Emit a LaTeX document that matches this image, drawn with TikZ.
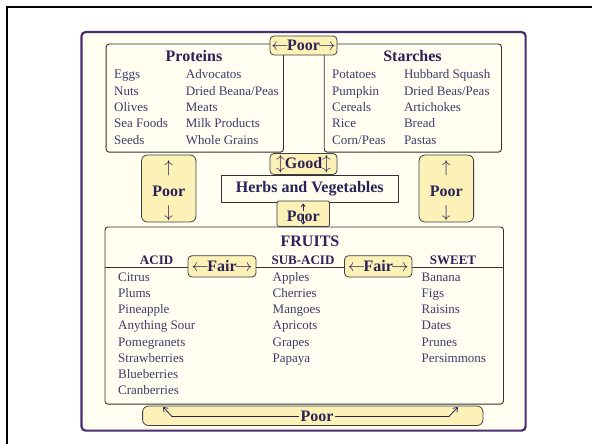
\documentclass[tikz,border=0pt]{standalone}
\usepackage{fontspec}
\setmainfont{Liberation Serif}
\usetikzlibrary{arrows.meta}
\definecolor{framepurple}{HTML}{4B2C6E}
\definecolor{cream}{HTML}{FFFEF0}
\definecolor{lblyellow}{HTML}{FCF2B8}
\definecolor{ttlcol}{HTML}{2B2258}
\definecolor{itmcol}{HTML}{3F3B6B}
\tikzset{
  frame/.style={draw=framepurple, line width=2.2pt, rounded corners=4pt, fill=cream, inner sep=0pt},
  grp/.style={draw=black!80, line width=0.9pt, rounded corners=3pt, inner sep=0pt},
  lbl/.style={draw=black!75, line width=0.8pt, rounded corners=4pt, fill=lblyellow, inner sep=0pt,
    font=\bfseries\fontsize{16}{16}\selectfont, text=ttlcol},
  ttl/.style={font=\bfseries\fontsize{16}{16}\selectfont, text=ttlcol, anchor=base, inner sep=0pt},
  hdr/.style={font=\bfseries\fontsize{13}{13}\selectfont, text=ttlcol, anchor=base, inner sep=0pt},
  itm/.style={font=\fontsize{13}{13}\selectfont, text=itmcol, anchor=base west, inner sep=0pt},
  arw/.style={font=\fontsize{16}{16}\selectfont, text=ttlcol, inner sep=0pt},
  conn/.style={draw=ttlcol, line width=0.8pt, -{Straight Barb[length=4pt,width=6pt]}},
}
\begin{document}
\begin{tikzpicture}[x=1pt,y=-1pt]
\useasboundingbox (0,0) rectangle (592,444);
\fill[white] (0,0) rectangle (592,444);
\draw[line width=1.3pt] (7,444) -- (7,7) -- (592,7);
% outer frame
\node[frame, anchor=north west, minimum width=444.1pt, minimum height=398.5pt] (frame) at (80.4,31) {};
% group boxes
\node[grp, anchor=north west, minimum width=177.3pt, minimum height=108.1pt] (prot) at (105.7,43.6) {};
\node[grp, anchor=north west, minimum width=177.2pt, minimum height=108.1pt] (starch) at (323.8,43.6) {};
\node[ttl] (prott) at (194,61.3) {Proteins};
\node[ttl] (starcht) at (412.5,61.3) {Starches};
\foreach \t [count=\i from 0] in {Eggs,Nuts,Olives,Sea Foods,Seeds}
  \node[itm] (pa\i) at (114,78.8+16.3*\i) {\t};
\foreach \t [count=\i from 0] in {Advocatos,Dried Beana/Peas,Meats,Milk Products,Whole Grains}
  \node[itm] (pb\i) at (185.7,78.8+16.3*\i) {\t};
\foreach \t [count=\i from 0] in {Potatoes,Pumpkin,Cereals,Rice,Corn/Peas}
  \node[itm] (sa\i) at (332,78.8+16.3*\i) {\t};
\foreach \t [count=\i from 0] in {Hubbard Squash,Dried Beas/Peas,Artichokes,Bread,Pastas}
  \node[itm] (sb\i) at (403.8,78.8+16.3*\i) {\t};
% top poor
\node[lbl, minimum width=67pt, minimum height=19pt] (ptop) at (303.5,45.5) {$\leftarrow$\kern-1.5pt Poor\kern-1.5pt$\rightarrow$};
% good
\node[lbl, minimum width=67pt, minimum height=21pt] (good) at (303.5,164) {$\updownarrow$Good$\updownarrow$};
% herbs
\node[grp, rounded corners=0pt, fill=cream, minimum width=176.5pt, minimum height=26.5pt,
  font=\bfseries\fontsize{16}{16}\selectfont, text=ttlcol] (herbs) at (309.75,188.75) {Herbs and Vegetables};
% side poor
\node[lbl, rounded corners=6pt, minimum width=54.5pt, minimum height=67pt] (pleft) at (168.75,188.5) {};
\node[arw] (pleftu) at (168.75,168.5) {$\uparrow$};
\node[ttl, anchor=center] (pleftt) at (168.75,191.5) {Poor};
\node[arw] (pleftd) at (168.75,213) {$\downarrow$};
\node[lbl, rounded corners=6pt, minimum width=54.6pt, minimum height=67pt] (pright) at (446.3,188.5) {};
\node[arw] (prightu) at (446.3,168.5) {$\uparrow$};
\node[ttl, anchor=center] (prightt) at (446.3,191.5) {Poor};
\node[arw] (prightd) at (446.3,213) {$\downarrow$};
% fruits
\node[grp, anchor=north west, minimum width=398.5pt, minimum height=177.2pt] (fruits) at (104.5,226.5) {};
\coordinate (fl) at (104.5,267.4);
\coordinate (fr) at (503,267.4);
\draw[black!80, line width=0.9pt] (fl) -- (fr);
\node[ttl] (fruitst) at (310,246.9) {FRUITS};
\node[hdr] (acid) at (156.6,264.3) {ACID};
\node[hdr] (subacid) at (303,264.3) {SUB-ACID};
\node[hdr] (sweet) at (453,264.3) {SWEET};
\node[lbl, minimum width=68pt, minimum height=21.3pt] (fair1) at (222,266.35) {$\leftarrow$\kern-1.5pt Fair\kern-1.5pt$\rightarrow$};
\node[lbl, minimum width=67.5pt, minimum height=21.3pt] (fair2) at (378.25,266.35) {$\leftarrow$\kern-1.5pt Fair\kern-1.5pt$\rightarrow$};
\foreach \t [count=\i from 0] in {Citrus,Plums,Pineapple,Anything Sour,Pomegranets,Strawberries,Blueberries,Cranberries}
  \node[itm] (fa\i) at (118,281.1+16.27*\i) {\t};
\foreach \t [count=\i from 0] in {Apples,Cherries,Mangoes,Apricots,Grapes,Papaya}
  \node[itm] (fb\i) at (272.5,281.1+16.27*\i) {\t};
\foreach \t [count=\i from 0] in {Banana,Figs,Raisins,Dates,Prunes,Persimmons}
  \node[itm] (fc\i) at (421.5,281.1+16.27*\i) {\t};
% small poor between herbs and fruits
\node[lbl, rounded corners=2pt, minimum width=52.4pt, minimum height=25.5pt] (pmid) at (303.2,213.75) {};
\node[ttl, anchor=center] (pmidt) at (303.2,216.5) {Poor};
\coordinate (pmu1) at (303.2,211);
\coordinate (pmu2) at (303.2,203.5);
\coordinate (pmd1) at (303.2,213.5);
\coordinate (pmd2) at (303.2,224.5);
\draw[conn, -{Straight Barb[length=2.5pt,width=4pt]}] (pmu1) -- (pmu2);
\draw[conn, -{Straight Barb[length=2.5pt,width=4pt]}] (pmd1) -- (pmd2);
% bottom poor
\node[lbl, rounded corners=6pt, minimum width=340.4pt, minimum height=19.5pt] (pbot) at (312.8,415.75) {};
\node[ttl, anchor=center, inner sep=1.5pt] (pbott) at (317,416.5) {Poor};
\coordinate (bl1) at (172,416.5);
\coordinate (bl2) at (163,407);
\coordinate (br1) at (449,416.5);
\coordinate (br2) at (458,407);
\draw[conn] (pbott.west) -- (bl1) -- (bl2);
\draw[conn] (pbott.east) -- (br1) -- (br2);
\end{tikzpicture}
\end{document}
